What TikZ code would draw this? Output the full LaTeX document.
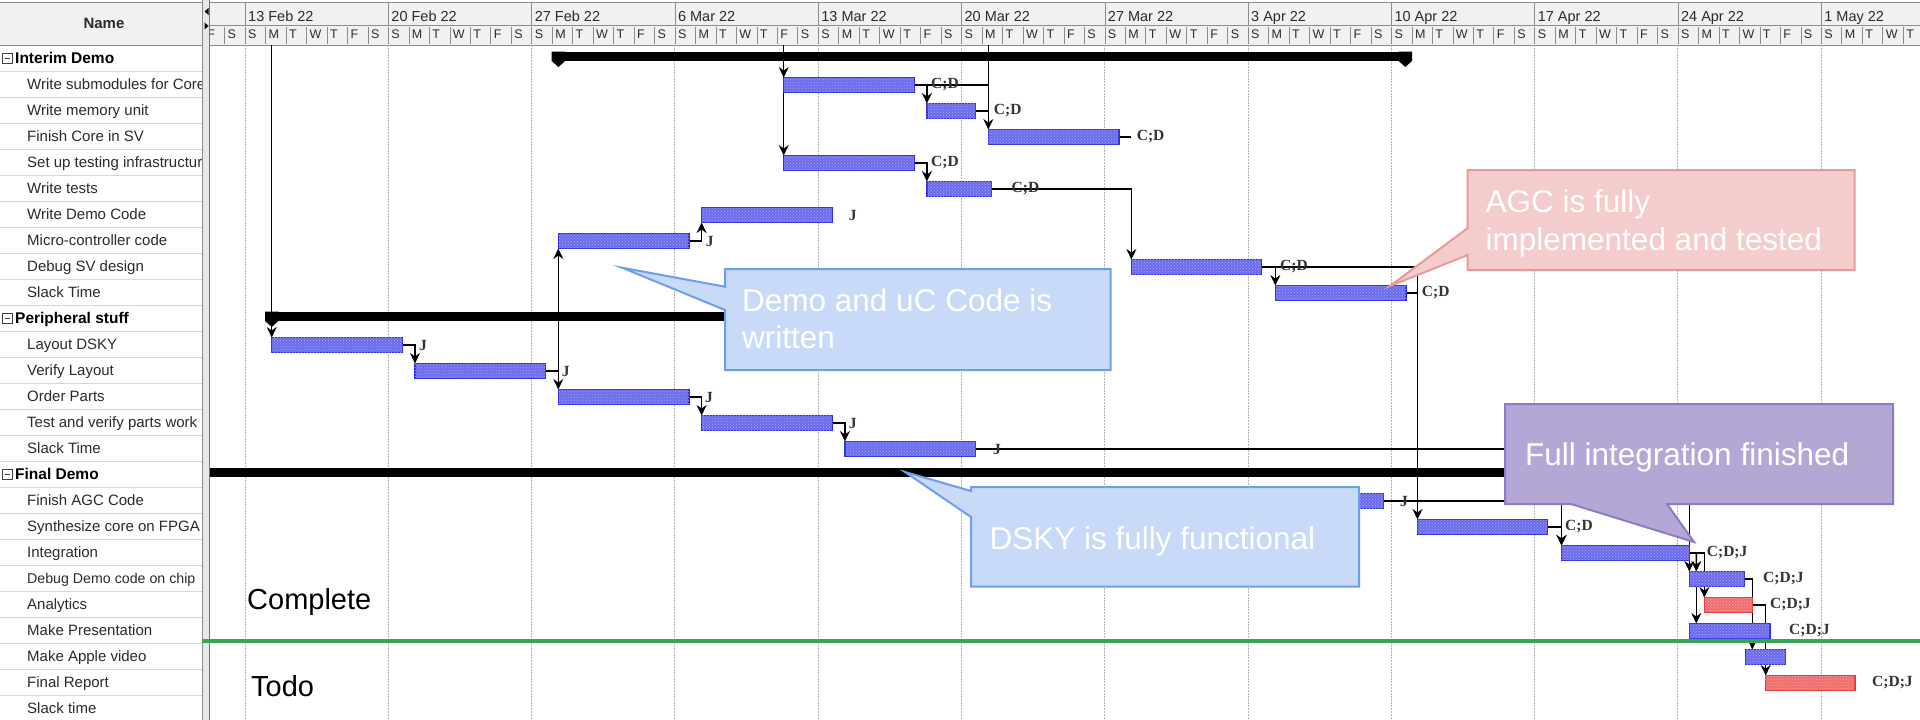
\documentclass[tikz,border=0pt]{standalone}
\usepackage{fontspec}
\setmainfont{Liberation Sans}
\newfontfamily\tagfont{Liberation Serif}
\usetikzlibrary{arrows.meta,calc,patterns}

\definecolor{barfill}{HTML}{6C6CEC}
\definecolor{bardot}{HTML}{A4A4F6}
\definecolor{barline}{HTML}{2E2EE2}
\definecolor{redfill}{HTML}{EE6E6E}
\definecolor{reddot}{HTML}{F6A6A6}
\definecolor{redline}{HTML}{E83434}
\definecolor{gridgray}{HTML}{B4B4B4}
\definecolor{headbg}{HTML}{F1F1F1}
\definecolor{headline}{HTML}{8C8C8C}
\definecolor{rowline}{HTML}{D6D6D6}
\definecolor{nametext}{HTML}{2B2B2B}
\definecolor{tagtext}{HTML}{333333}
\definecolor{donegreen}{HTML}{34A853}
\definecolor{blueFill}{HTML}{C9DAF8}
\definecolor{blueEdge}{HTML}{6D9EEB}
\definecolor{pinkFill}{HTML}{F4CCCC}
\definecolor{pinkEdge}{HTML}{EA9999}
\definecolor{lilacFill}{HTML}{B4A7D6}
\definecolor{lilacEdge}{HTML}{8E7CC3}

\begin{document}
\begin{tikzpicture}[x=1pt,y=-1pt,
  barbase/.style={line width=1.2pt, minimum height=15pt, inner sep=0pt,
    outer sep=0pt, anchor=west},
  bar/.style={barbase, draw=barline, fill=barfill,
    postaction={pattern=crosshatch dots, pattern color=bardot}},
  redbar/.style={barbase, draw=redline, fill=redfill,
    postaction={pattern=crosshatch dots, pattern color=reddot}},
  dep/.style={line width=1.4pt, black},
  deparrow/.style={dep, -{Stealth[length=10.5pt,width=10pt,inset=3.5pt]}},
  tag/.style={font=\tagfont\bfseries\fontsize{15.5}{15.5}\selectfont,
    text=tagtext, inner sep=0pt, anchor=west},
  nametxt/.style={font=\fontsize{15}{15}\selectfont, text=nametext,
    inner sep=0pt, anchor=base west},
  grouptxt/.style={font=\bfseries\fontsize{15.5}{15.5}\selectfont,
    text=black, inner sep=0pt, anchor=base west},
  datetxt/.style={font=\fontsize{14.5}{14.5}\selectfont, text=nametext,
    inner sep=0pt, anchor=base west},
  daytxt/.style={font=\fontsize{12.5}{12.5}\selectfont, text=nametext,
    inner sep=0pt, anchor=base west},
  notetxt/.style={font=\fontsize{31.5}{31.5}\selectfont, text=white,
    inner sep=0pt, anchor=base west},
  bigtxt/.style={font=\fontsize{29}{29}\selectfont, text=black,
    inner sep=0pt, anchor=base west}]

\useasboundingbox (0,0) rectangle (1920,720);
\fill[white] (0,0) rectangle (1920,720);

% ---------- task name column ----------
\fill[headbg] (0,2) rectangle (202,45);
\foreach \k in {0,...,26}
  \draw[rowline, line width=1pt] (0,{45.3+26*\k}) -- (202,{45.3+26*\k});
\draw[headline] (0,2) -- (202,2);
\draw[headline] (0,45) -- (202,45);
\node[font=\bfseries\fontsize{15}{15}\selectfont, text=nametext] (nameHead) at (104,23) {Name};

\begin{scope}
  \clip (0,45) rectangle (202,720);
  \foreach \i/\t in {1/Write submodules for Core, 2/Write memory unit,
      3/Finish Core in SV, 4/Set up testing infrastructure, 5/Write tests,
      6/Write Demo Code, 7/Micro-controller code, 8/Debug SV design,
      9/Slack Time, 11/Layout DSKY, 12/Verify Layout, 13/Order Parts,
      14/Test and verify parts work, 15/Slack Time, 17/Finish AGC Code,
      18/Synthesize core on FPGA, 19/Integration,
      21/Analytics, 22/Make Presentation, 23/Make Apple video,
      24/Final Report, 25/Slack time}
    \node[nametxt] (name\i) at (27,{58.3+26*\i+5.4}) {\t};
  \node[nametxt, font=\fontsize{14.2}{14.2}\selectfont] (name20)
    at (27,{58.3+26*20+5.4}) {Debug Demo code on chip};
  \foreach \i/\t in {0/Interim Demo, 10/Peripheral stuff, 16/Final Demo} {
    \draw[black!75, line width=0.9pt] (2,{58.3+26*\i-5}) rectangle (12,{58.3+26*\i+5});
    \draw[black!75, line width=0.9pt] (4.5,{58.3+26*\i}) -- (9.5,{58.3+26*\i});
    \node[grouptxt] (group\i) at (15,{58.3+26*\i+5.6}) {\t};
  }
\end{scope}

% ---------- splitter ----------
\fill[black!9] (202,0) rectangle (210,720);
\draw[headline] (202,0) -- (202,720);
\draw[black!55, line width=1pt] (209.5,0) -- (209.5,720);
\fill (204.5,11.5) -- (208.5,8) -- (208.5,15) -- cycle;
\fill (208.5,26) -- (204.5,22.5) -- (204.5,29.5) -- cycle;

% ---------- timeline ----------
\begin{scope}
  \clip (210,0) rectangle (1920,720);
  \fill[headbg] (210,2) rectangle (1920,45);
  \draw[headline] (210,2) -- (1920,2);
  \draw[headline] (210,25) -- (1920,25);
  \draw[headline] (210,45) -- (1920,45);
  % week captions
  \foreach \w/\lab in {0/13 Feb 22, 1/20 Feb 22, 2/27 Feb 22, 3/6 Mar 22,
      4/13 Mar 22, 5/20 Mar 22, 6/27 Mar 22, 7/3 Apr 22, 8/10 Apr 22,
      9/17 Apr 22, 10/24 Apr 22, 11/1 May 22} {
    \draw[headline] ({245+143.29*\w},2) -- ({245+143.29*\w},25);
    \node[datetxt] (week\w) at ({248+143.29*\w},21) {\lab};
    \draw[gridgray, line width=0.9pt, dash pattern=on 1.5pt off 1.5pt]
      ({245+143.29*\w},45) -- ({245+143.29*\w},720);
  }
  % day letters
  \foreach \d in {-2,...,81} {
    \pgfmathtruncatemacro\dayidx{mod(\d+14,7)}
    \draw[headline] ({245+20.47*\d},27) -- ({245+20.47*\d},44);
    \node[daytxt] at ({248+20.47*\d},38.5)
      {\ifcase\dayidx S\or M\or T\or W\or T\or F\or S\fi};
  }

  % free ends of links coming from rows above the view
  \coordinate (fromAbove1) at (271.7,45);
  \coordinate (fromAbove2) at (783.7,45);
  \coordinate (fromAbove3) at (988.3,45);

  % task bars
  \path
    node[bar, minimum width=130.6] (t1) at (783.7,85) {}
    node[bar, minimum width=48.6]  (t2) at (926.9,111) {}
    node[bar, minimum width=130.6] (t3) at (988.3,137) {}
    node[bar, minimum width=130.6] (t4) at (783.7,163) {}
    node[bar, minimum width=64.7]  (t5) at (926.9,189) {}
    node[bar, minimum width=130.6] (t6) at (701.6,215) {}
    node[bar, minimum width=130.6] (t7) at (558.3,241) {}
    node[bar, minimum width=129.8] (t8) at (1131.4,267) {}
    node[bar, minimum width=130.6] (t9) at (1275.3,293) {}
    node[bar, minimum width=130.6] (t11) at (271.7,345) {}
    node[bar, minimum width=130.6] (t12) at (415,371) {}
    node[bar, minimum width=130.6] (t13) at (558.3,397) {}
    node[bar, minimum width=130.6] (t14) at (701.6,423) {}
    node[bar, minimum width=130.6] (t15) at (844.9,449) {}
    node[bar, minimum width=130.6] (t17) at (1253,501) {}
    node[bar, minimum width=130]   (t18) at (1417.5,527) {}
    node[bar, minimum width=127.8] (t19) at (1561.5,553) {}
    node[bar, minimum width=55]    (t20) at (1689.3,579) {}
    node[redbar, minimum width=48] (t21) at (1704.3,605) {}
    node[bar, minimum width=80.7]  (t22) at (1689.3,631) {}
    node[bar, minimum width=40]    (t23) at (1745.7,657) {}
    node[redbar, minimum width=89.3] (t24) at (1765.7,683) {};

  % links between tasks
  \draw[deparrow] (fromAbove1) -- (t11.north west);
  \draw[deparrow] (fromAbove2) -- (t1.north west);
  \draw[deparrow] (fromAbove2) -- (t4.north west);
  \draw[deparrow] (fromAbove3) -- (t3.north west);
  \draw[deparrow] (t1.east) -| (t2.north west);
  \draw[dep] (t1.east) -- (t1.east -| t3.west);
  \draw[dep] (t2.east) -- (t2.east -| t3.west);
  \draw[deparrow] (t4.east) -| (t5.north west);
  \draw[deparrow] (t5.east) -| (t8.north west);
  \draw[dep] (t3.east) -- (t3.east -| t8.west);
  \draw[deparrow] (t8.east) -| (t9.north west);
  \draw[deparrow] (t8.east) -| (t18.north west);
  \draw[dep] (t9.east) -- (t9.east -| t18.west);
  \draw[deparrow] (t11.east) -| (t12.north west);
  \draw[deparrow] (t12.east) -| (t13.north west);
  \draw[deparrow] (t12.east) -| (t7.south west);
  \draw[deparrow] (t13.east) -| (t14.north west);
  \draw[deparrow] (t7.east) -| (t6.south west);
  \draw[deparrow] (t14.east) -| (t15.north west);
  \draw[deparrow] (t15.east) -| (t19.north west);
  \draw[deparrow] (t18.east) -| (t19.north west);
  \draw[deparrow] (t17.east) -| (t20.north west);
  \draw[deparrow] (t19.east) -| (t21.north west);
  \draw[deparrow] ($(t19.east)+(7,0)$) -- ($(t20.north west)+(7,0)$);
  \draw[deparrow] ($(t20.south west)+(7,0)$) -- ($(t22.north west)+(7,0)$);
  \draw[deparrow] (t20.east) -| ($(t23.north west)+(6.6,0)$);
  \draw[deparrow] (t21.east) -| (t24.north west);

  % bars painted again so that the links pass behind them
  \foreach \n in {t1,t2,t3,t4,t5,t6,t7,t8,t9,t11,t12,t13,t14,t15,t17,t18,t19,t20,t22,t23} {
    \path[fill=barfill, draw=barline, line width=1.2pt,
      postaction={pattern=crosshatch dots, pattern color=bardot}]
      (\n.north west) rectangle (\n.south east);
  }
  \foreach \n in {t21,t24} {
    \path[fill=redfill, draw=redline, line width=1.2pt,
      postaction={pattern=crosshatch dots, pattern color=reddot}]
      (\n.north west) rectangle (\n.south east);
  }

  % summary bars
  \fill (551.7,51.5) rectangle (1412,61);
  \fill (551.7,51.5) -- ++(13.4,0) -- ++(0,9.5) -- ++(-6.7,6) -- ++(-6.7,-6) -- cycle;
  \fill (1412,51.5) -- ++(-13.4,0) -- ++(0,9.5) -- ++(6.7,6) -- ++(6.7,-6) -- cycle;
  \fill (265,311.5) rectangle (982,321);
  \fill (265,311.5) -- ++(13.4,0) -- ++(0,9.5) -- ++(-6.7,6) -- ++(-6.7,-6) -- cycle;
  \fill (982,311.5) -- ++(-13.4,0) -- ++(0,9.5) -- ++(6.7,6) -- ++(6.7,-6) -- cycle;
  \fill (205,467.5) rectangle (1861,477);
  \fill (1861,467.5) -- ++(-13.4,0) -- ++(0,9.5) -- ++(6.7,6) -- ++(6.7,-6) -- cycle;

  % resource tags
  \foreach \x/\y/\s [count=\n] in {931/85/C;D, 993.7/111/C;D, 1136.6/137/C;D,
      931/163/C;D, 1011.5/189/C;D, 848.6/215/J, 705.7/241.5/J, 1280/267/C;D,
      1421.7/293/C;D, 419/345/J, 561.7/371.5/J, 705/397.5/J, 848.6/423/J,
      992.8/449/J, 1400/501/J, 1565/527/C;D, 1706.7/553/C;D;J,
      1763/579/C;D;J, 1770/605/C;D;J, 1789/631/C;D;J, 1872/683/C;D;J}
    \node[tag] (tag\n) at (\x,\y) {\s};
\end{scope}

% ---------- progress marker ----------
\draw[donegreen, line width=4.3pt] (202,641) -- (1920,641);
\node[bigtxt] (completeLbl) at (247,609.3) {Complete};
\node[bigtxt] (todoLbl) at (251,696) {Todo};

% ---------- notes ----------
\filldraw[fill=blueFill, draw=blueEdge, line width=2pt]
  (725,269) -- (1110.6,269) -- (1110.6,370) -- (725,370) -- (725,310)
  -- (622,267.7) -- (725,286.7) -- cycle;
\node[notetxt] (noteDemoA) at (742,311.7) {Demo and uC Code is};
\node[notetxt] (noteDemoB) at (742,348.3) {written};

\filldraw[fill=pinkFill, draw=pinkEdge, line width=2pt]
  (1467.7,170) -- (1854.7,170) -- (1854.7,270) -- (1467.7,270) -- (1467.7,255)
  -- (1390,286) -- (1467.7,228) -- cycle;
\node[notetxt] (noteAgcA) at (1485.5,212.7) {AGC is fully};
\node[notetxt] (noteAgcB) at (1485.5,250) {implemented and tested};

\filldraw[fill=blueFill, draw=blueEdge, line width=2pt]
  (971,487) -- (1359,487) -- (1359,586.7) -- (971,586.7) -- (971,517)
  -- (905,472) -- (971,491) -- cycle;
\node[notetxt] (noteDsky) at (989.4,549) {DSKY is fully functional};

\filldraw[fill=lilacFill, draw=lilacEdge, line width=2pt]
  (1505,404) -- (1893,404) -- (1893,504) -- (1667,504) -- (1694,542)
  -- (1571,504) -- (1505,504) -- cycle;
\node[notetxt] (noteInteg) at (1525,465) {Full integration finished};

\end{tikzpicture}
\end{document}
